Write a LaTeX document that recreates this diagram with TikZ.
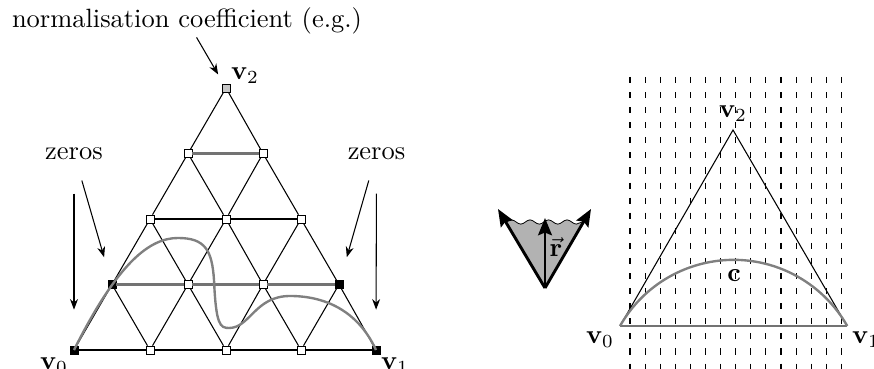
\documentclass[tikz,border=0pt]{standalone}
\usepackage{amsmath,amssymb}
\usetikzlibrary{arrows.meta,decorations.pathmorphing}

\begin{document}
\begin{tikzpicture}[
  x=0.378pt,y=-0.378pt,
  knot/.style={draw, fill=white, minimum size=3pt, inner sep=0pt, line width=0.3pt},
  zero/.style={knot, fill=black},
  lbl/.style={inner sep=1pt},
  arr/.style={-{Stealth[length=4pt,width=3pt]}},
  dir/.style={-{Stealth[length=6.5pt,width=5.2pt,inset=1pt]}, line width=1.1pt},
  hl/.style={draw=black!55, line width=0.9pt},
  curve/.style={draw=black!50, line width=0.9pt},
  wave/.style={decorate, decoration={snake, amplitude=0.8pt, segment length=7pt}}
]
\useasboundingbox (0,0) rectangle (874,369);

% lattice of the left triangle
\node[zero] (p00) at (74,350) {};
\node[knot] (p01) at (150,350) {};
\node[knot] (p02) at (226,350) {};
\node[knot] (p03) at (301,350) {};
\node[zero] (p04) at (376,350) {};
\node[zero] (p10) at (112,284.5) {};
\node[knot] (p11) at (188,284.5) {};
\node[knot] (p12) at (263,284.5) {};
\node[zero] (p13) at (339,284.5) {};
\node[knot] (p20) at (150,219) {};
\node[knot] (p21) at (226,219) {};
\node[knot] (p22) at (301,219) {};
\node[knot] (p30) at (188,153.5) {};
\node[knot] (p31) at (263,153.5) {};
\node[knot, fill=black!22] (p40) at (226,88) {};

\draw (p00) -- (p01) -- (p02) -- (p03) -- (p04);
\draw[hl] (p10) -- (p11) -- (p12) -- (p13);
\draw (p20) -- (p21) -- (p22);
\draw[hl] (p30) -- (p31);
\draw (p00) -- (p10) -- (p20) -- (p30) -- (p40);
\draw (p01) -- (p11) -- (p21) -- (p31);
\draw (p02) -- (p12) -- (p22);
\draw (p03) -- (p13);
\draw (p04) -- (p13) -- (p22) -- (p31) -- (p40);
\draw (p03) -- (p12) -- (p21) -- (p30);
\draw (p02) -- (p11) -- (p20);
\draw (p01) -- (p10);

\draw[curve] (p00.center) .. controls (118,262) and (150,238) .. (178,238)
  .. controls (205,238) and (212,250) .. (214,280)
  .. controls (216,325) and (220,328) .. (229,328)
  .. controls (250,328) and (255,296) .. (290,296)
  .. controls (330,296) and (360,315) .. (p04.center);

\node[lbl] (lv0) at (54,366) {$\mathbf{v}_0$};
\node[lbl] (lv1) at (395,366) {$\mathbf{v}_1$};
\node[lbl] (lv2) at (245,76) {$\mathbf{v}_2$};

% labels and pointers
\node[lbl] (norm) at (187,21) {normalisation coefficient (e.g.)};
\node[lbl] (zl) at (74,153.5) {zeros};
\node[lbl] (zr) at (376.5,153.5) {zeros};
\draw[arr, shorten >=4pt] (norm) -- (p40);
\draw[arr, shorten <=7pt, shorten >=9pt] (zl) -- (p10);
\draw[arr, shorten <=11.7pt, shorten >=13.6pt] (zl) -- (p00);
\draw[arr, shorten <=7pt, shorten >=9pt] (zr) -- (p13);
\draw[arr, shorten <=11.7pt, shorten >=13.6pt] (zr) -- (p04);

% cone of directions
\coordinate (apex) at (545,288);
\coordinate (tl) at (498,209);
\coordinate (tr) at (591,209);
\coordinate (tm) at (545,218);
\coordinate (cl) at (505.7,222);
\coordinate (cr) at (583.4,222);
\fill[black!30] (apex) -- (cl) decorate[wave] {-- (cr)} -- cycle;
\draw[wave, line width=0.3pt] (cl) -- (cr);
\draw[dir] (apex) -- (tl);
\draw[dir] (apex) -- (tr);
\draw[dir] (apex) -- (tm);
\node[lbl] (r) at (556,247) {$\vec{\mathbf{r}}$};

% stripes
\foreach \k in {0,...,14}
  \draw[dash pattern=on 2.3pt off 3.4pt] (630+15.1*\k,77) -- (630+15.1*\k,369);

% right triangle
\coordinate (w0) at (620,326);
\coordinate (w1) at (847,326);
\coordinate (w2) at (733,130);
\draw (w1) -- (w2) -- (w0);
\draw[hl] (w0) -- (w1);
\draw[curve] (w0) arc[start angle=150.4, end angle=29.6, radius=49.4pt];
\node[lbl] (rv0) at (600,340) {$\mathbf{v}_0$};
\node[lbl] (rv1) at (866,340) {$\mathbf{v}_1$};
\node[lbl] (rv2) at (733,114) {$\mathbf{v}_2$};
\node[lbl] (c) at (734,276) {$\mathbf{c}$};
\end{tikzpicture}
\end{document}
